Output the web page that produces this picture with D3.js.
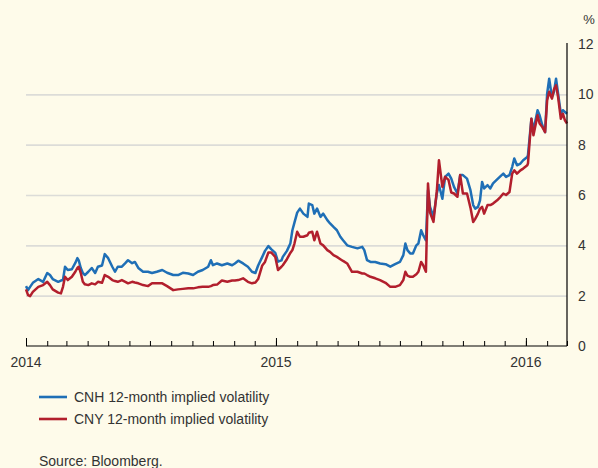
<!DOCTYPE html>
<html>
<head>
<meta charset="utf-8">
<script src="https://cdn.jsdelivr.net/npm/d3@7"></script>
<style>
  body { margin: 0; background: #fefbea; }
  svg { display: block; font-family: "Liberation Sans", Arial, sans-serif; }
  .grid line { stroke: #dcdcd8; stroke-width: 1.6; }
  .grid path { display: none; }
  .tick text { fill: #333; font-size: 14px; }
  .legend text { fill: #333; font-size: 14px; }
</style>
</head>
<body>
<svg width="598" height="468"></svg>
<script>
// days since 1 Jan 2014
const days = [0, 3, 6, 10, 18, 25, 31, 35, 39, 47, 51, 54, 57, 61, 67, 72, 75, 77, 80, 83,
  86, 91, 96, 101, 105, 111, 115, 120, 126, 130, 134, 140, 145, 149, 155, 159, 164, 171, 178, 184,
  191, 199, 206, 215, 222, 229, 237, 244, 251, 258, 266, 270, 273, 279, 286, 294, 301, 305, 310, 317,
  324, 330, 335, 339, 345, 349, 354, 358, 364, 368, 373, 375, 381, 386, 389, 392, 396, 400, 405, 411,
  413, 418, 421, 425, 430, 434, 440, 444, 449, 454, 459, 463, 469, 476, 484, 491, 494, 498, 503, 510,
  517, 525, 532, 539, 546, 551, 554, 557, 561, 565, 570, 573, 577, 580, 584, 587, 590, 595, 600, 603,
  608, 612, 617, 621, 625, 630, 634, 638, 644, 649, 653, 656, 660, 663, 666, 669, 674, 678, 682, 688,
  693, 697, 701, 706, 710, 713, 717, 722, 726, 732, 733, 738, 741, 747, 750, 754, 758, 761, 764, 768,
  771, 774, 777, 781, 784, 787, 790];

// CNH 12-month implied volatility, %
const cnh = [2.38, 2.22, 2.35, 2.51, 2.66, 2.55, 2.90, 2.82, 2.66, 2.55, 2.60, 2.62, 3.15, 3.02, 3.05, 3.30, 3.49, 3.40, 3.10, 2.90,
  2.82, 2.95, 3.10, 2.90, 3.15, 3.20, 3.65, 3.49, 3.15, 2.95, 3.15, 3.15, 3.29, 3.41, 3.29, 3.34, 3.10, 2.95, 2.95, 2.90,
  2.95, 3.02, 2.91, 2.82, 2.82, 2.91, 2.88, 2.82, 2.95, 3.02, 3.15, 3.41, 3.21, 3.28, 3.21, 3.28, 3.21, 3.28, 3.39, 3.28,
  3.15, 2.95, 2.90, 3.20, 3.54, 3.78, 3.97, 3.85, 3.70, 3.35, 3.40, 3.54, 3.78, 4.07, 4.60, 4.90, 5.30, 5.46, 5.26, 5.13,
  5.66, 5.60, 5.26, 5.46, 5.13, 5.26, 5.00, 4.87, 4.73, 4.60, 4.34, 4.20, 4.00, 3.94, 3.88, 3.94, 3.81, 3.41, 3.34, 3.34,
  3.28, 3.25, 3.15, 3.25, 3.34, 3.61, 4.07, 3.81, 3.68, 3.68, 4.00, 4.07, 4.60, 4.40, 4.20, 6.19, 5.53, 5.13, 6.07, 6.40,
  5.85, 6.72, 6.85, 6.65, 6.32, 6.06, 6.79, 6.79, 6.65, 6.19, 5.60, 5.46, 5.53, 5.79, 6.52, 6.26, 6.39, 6.26, 6.46, 6.62,
  6.75, 6.85, 6.72, 6.79, 7.12, 7.45, 7.18, 7.25, 7.38, 7.51, 7.58, 9.03, 8.57, 9.37, 9.17, 8.77, 8.50, 10.03, 10.62, 9.89,
  10.10, 10.62, 10.03, 9.23, 9.37, 9.30, 9.23];

// CNY 12-month implied volatility, %
const cny = [2.25, 2.02, 1.98, 2.15, 2.35, 2.42, 2.55, 2.42, 2.25, 2.12, 2.09, 2.35, 2.75, 2.62, 2.75, 2.95, 3.10, 3.15, 2.90, 2.55,
  2.45, 2.42, 2.49, 2.45, 2.55, 2.51, 2.82, 2.75, 2.62, 2.58, 2.55, 2.62, 2.55, 2.49, 2.55, 2.52, 2.49, 2.42, 2.38, 2.49,
  2.49, 2.49, 2.38, 2.22, 2.25, 2.27, 2.29, 2.29, 2.33, 2.35, 2.35, 2.38, 2.42, 2.44, 2.60, 2.55, 2.60, 2.60, 2.62, 2.69,
  2.55, 2.49, 2.52, 2.66, 3.20, 3.34, 3.72, 3.72, 3.54, 3.02, 3.15, 3.21, 3.45, 3.70, 3.81, 4.07, 4.54, 4.34, 4.34, 4.40,
  4.50, 4.54, 4.20, 4.54, 4.07, 4.00, 3.81, 3.74, 3.61, 3.54, 3.45, 3.38, 3.28, 2.95, 2.95, 2.88, 2.88, 2.82, 2.75, 2.69,
  2.62, 2.51, 2.35, 2.35, 2.42, 2.62, 2.95, 2.80, 2.75, 2.75, 2.85, 2.95, 3.34, 3.21, 2.95, 6.46, 5.30, 4.93, 6.19, 7.38,
  6.32, 6.72, 6.60, 6.10, 6.06, 5.93, 6.79, 6.06, 6.06, 5.50, 4.93, 5.05, 5.26, 5.46, 5.53, 5.26, 5.60, 5.60, 5.66, 5.79,
  5.93, 6.06, 6.00, 6.12, 6.85, 6.98, 6.85, 6.98, 7.05, 7.18, 7.25, 9.03, 8.37, 9.17, 8.84, 8.70, 8.50, 9.76, 10.10, 9.83,
  10.20, 10.36, 9.89, 9.03, 9.23, 8.97, 8.84];

const yTicks = [0, 2, 4, 6, 8, 10, 12];
const yearTicks = ["2014-01-01", "2015-01-01", "2016-01-01"];
const seriesNames = ["CNH 12-month implied volatility", "CNY 12-month implied volatility"];
const colors = ["#1f6fb6", "#b21f2d"];

const start = new Date(2014, 0, 1);
const dates = days.map(d => d3.timeDay.offset(start, d));

const plotLeft = 26, plotRight = 567, plotTop = 44, plotBottom = 346;
const svg = d3.select("svg");

const x = d3.scaleTime()
  .domain([start, new Date(2016, 2, 1)])
  .range([plotLeft, plotRight]);

const y = d3.scaleLinear()
  .domain([0, 12])
  .range([plotBottom, plotTop]);

// horizontal grid
svg.append("g")
  .attr("class", "grid")
  .attr("transform", `translate(${plotLeft},0)`)
  .call(d3.axisRight(y)
    .tickValues(yTicks.filter(v => v > 0 && v < 12))
    .tickSize(plotRight - plotLeft)
    .tickFormat(""));

// lines
const line = d3.line()
  .x((d, i) => x(dates[i]))
  .y(d => y(d));

[cnh, cny].forEach((s, k) => {
  svg.append("path")
    .datum(s)
    .attr("fill", "none")
    .attr("stroke", colors[k])
    .attr("stroke-width", 2.5)
    .attr("stroke-linejoin", "round")
    .attr("d", line);
});

// right axis
const yAxis = svg.append("g")
  .attr("transform", `translate(${plotRight},0)`)
  .call(d3.axisRight(y).tickValues(yTicks).tickSize(0).tickPadding(11));
yAxis.select(".domain").attr("stroke", "#000").attr("stroke-width", 1.2).attr("d", `M0,${plotTop - 1}V${plotBottom}`);

svg.append("text")
  .attr("x", 589)
  .attr("y", 24)
  .attr("text-anchor", "middle")
  .attr("fill", "#333")
  .attr("font-size", 13)
  .text("%");

// bottom axis: monthly minor ticks, yearly ticks with labels
const xMinor = svg.append("g")
  .attr("transform", `translate(0,${plotBottom})`)
  .call(d3.axisTop(x).ticks(d3.timeMonth.every(1)).tickSize(5).tickFormat(""));
xMinor.select(".domain").attr("stroke", "#000").attr("stroke-width", 1.2).attr("d", `M${plotLeft},0H${plotRight}`);
xMinor.selectAll(".tick line").attr("stroke", "#000");

const xYears = svg.append("g")
  .attr("transform", `translate(0,${plotBottom})`)
  .call(d3.axisTop(x).tickValues(yearTicks.map(d => new Date(d + "T00:00"))).tickSize(8).tickFormat(""));
xYears.select(".domain").remove();
xYears.selectAll(".tick line").attr("stroke", "#000");

svg.append("g")
  .selectAll("text")
  .data(yearTicks)
  .join("text")
  .attr("x", d => x(new Date(d + "T00:00")))
  .attr("y", plotBottom + 21)
  .attr("text-anchor", "middle")
  .attr("fill", "#333")
  .attr("font-size", 14)
  .text(d => d.slice(0, 4));

// legend
const legend = svg.append("g").attr("class", "legend");
seriesNames.forEach((name, k) => {
  const ly = 397 + k * 22;
  legend.append("line")
    .attr("x1", 39).attr("x2", 67)
    .attr("y1", ly).attr("y2", ly)
    .attr("stroke", colors[k])
    .attr("stroke-width", 2.6);
  legend.append("text")
    .attr("x", 74)
    .attr("y", ly + 5)
    .text(name);
});

svg.append("text")
  .attr("x", 39)
  .attr("y", 466)
  .attr("fill", "#333")
  .attr("font-size", 14)
  .text("Source: Bloomberg.");
</script>
</body>
</html>
